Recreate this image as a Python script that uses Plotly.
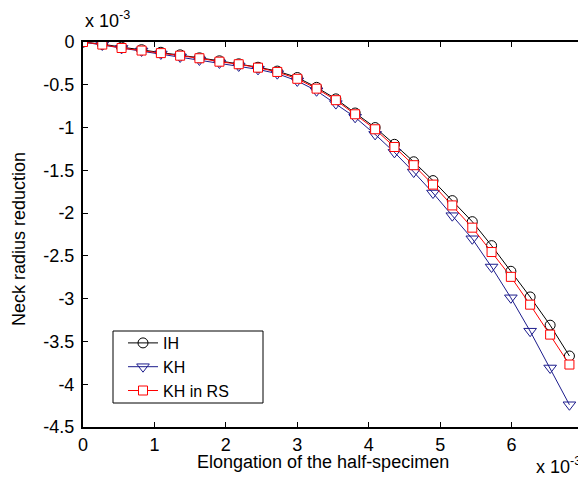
import plotly.graph_objects as go

# Elongation of the half-specimen (x 10^-3)
elongation = [0, 0.27, 0.54, 0.82, 1.09, 1.36, 1.63, 1.91, 2.18, 2.45, 2.72, 3.0, 3.27,
              3.54, 3.81, 4.09, 4.36, 4.63, 4.9, 5.17, 5.45, 5.72, 5.99, 6.26, 6.54, 6.81]
# Neck radius reduction (x 10^-3)
ih = [0, -0.025, -0.06, -0.09, -0.12, -0.15, -0.185, -0.22, -0.255, -0.295, -0.34, -0.415,
      -0.53, -0.665, -0.83, -1.0, -1.196, -1.40, -1.62, -1.854, -2.10, -2.38, -2.68, -2.98,
      -3.31, -3.67]
kh = [0, -0.035, -0.075, -0.105, -0.14, -0.175, -0.21, -0.245, -0.28, -0.32, -0.37, -0.455,
      -0.57, -0.72, -0.88, -1.08, -1.29, -1.52, -1.765, -2.03, -2.30, -2.63, -2.99, -3.38,
      -3.81, -4.24]
kh_rs = [0, -0.03, -0.07, -0.10, -0.13, -0.16, -0.19, -0.23, -0.26, -0.30, -0.35, -0.43,
         -0.545, -0.68, -0.845, -1.02, -1.227, -1.44, -1.667, -1.91, -2.17, -2.455, -2.745,
         -3.07, -3.42, -3.77]

x_ticks = [0, 1, 2, 3, 4, 5, 6, 7]
x_ticktext = ["0", "1", "2", "3", "4", "5", "6", "7"]
y_ticks = [0, -0.5, -1, -1.5, -2, -2.5, -3, -3.5, -4, -4.5]
y_ticktext = ["0", "-0.5", "-1", "-1.5", "-2", "-2.5", "-3", "-3.5", "-4", "-4.5"]

FONT = "Liberation Sans, Arial, Helvetica, sans-serif"
FS = 18

fig = go.Figure()
fig.add_trace(go.Scatter(x=elongation, y=ih, name="IH", mode="lines+markers",
                         line=dict(color="black", width=1),
                         marker=dict(symbol="circle-open", size=10, color="black",
                                     line=dict(width=1))))
fig.add_trace(go.Scatter(x=elongation, y=kh, name="KH", mode="lines+markers",
                         line=dict(color="#1c1c8c", width=1),
                         marker=dict(symbol="triangle-down-open", size=11, color="#1c1c8c",
                                     line=dict(width=1))))
fig.add_trace(go.Scatter(x=elongation, y=kh_rs, name="KH in RS", mode="lines+markers",
                         line=dict(color="#ff0000", width=1),
                         marker=dict(symbol="square", size=9, color="white",
                                     line=dict(width=1, color="#ff0000"))))

axis_common = dict(showgrid=False, zeroline=False, showline=True, linecolor="black",
                   linewidth=2, mirror="ticks", ticks="inside", ticklen=5, tickwidth=1,
                   tickcolor="black",
                   tickfont=dict(family=FONT, size=FS, color="black"))

# Plot area in window pixels: left 83, right 583, top 42, bottom 427 (body margin 8px)
def px_x(px):
    return (px - 83) / 500

def px_y(py):
    return (427 - py) / 385

fig.update_layout(
    width=578, height=472,
    margin=dict(l=75, r=3, t=34, b=53, autoexpand=False),
    paper_bgcolor="white", plot_bgcolor="white",
    font=dict(family=FONT, size=FS, color="black"),
    showlegend=True,
    legend=dict(x=px_x(123), y=px_y(326), xanchor="left", yanchor="top",
                borderwidth=0, bgcolor="rgba(0,0,0,0)",
                font=dict(family=FONT, size=16, color="black"),
                tracegroupgap=0),
    xaxis=dict(range=[0, 7], tickvals=x_ticks, ticktext=x_ticktext, **axis_common),
    yaxis=dict(range=[-4.5, 0], tickvals=y_ticks, ticktext=y_ticktext,
               ticklabelstandoff=3, **axis_common),
)

# legend frame
fig.add_shape(type="rect", xref="paper", yref="paper",
              x0=px_x(113), x1=px_x(263), y0=px_y(403), y1=px_y(331),
              line=dict(color="black", width=1), fillcolor="white", layer="above")

fig.add_annotation(text="Elongation of the half-specimen", xref="paper", yref="paper",
                   x=px_x(322.5), y=px_y(462), xanchor="center",
                   yanchor="middle", showarrow=False,
                   font=dict(family=FONT, size=FS, color="black"))
fig.add_annotation(text="Neck radius reduction", xref="paper", yref="paper",
                   x=px_x(19), y=px_y(239), xanchor="center",
                   yanchor="middle", textangle=-90, showarrow=False,
                   font=dict(family=FONT, size=FS, color="black"))
fig.add_annotation(text="x 10<sup>-3</sup>", xref="paper", yref="paper",
                   x=0, y=px_y(33), xanchor="left", yanchor="bottom",
                   showarrow=False, font=dict(family=FONT, size=FS, color="black"))
fig.add_annotation(text="x 10<sup>-3</sup>", xref="paper", yref="paper",
                   x=1.0, y=px_y(479), xanchor="right", yanchor="bottom",
                   showarrow=False, font=dict(family=FONT, size=FS, color="black"))

fig.write_html("out.html")
